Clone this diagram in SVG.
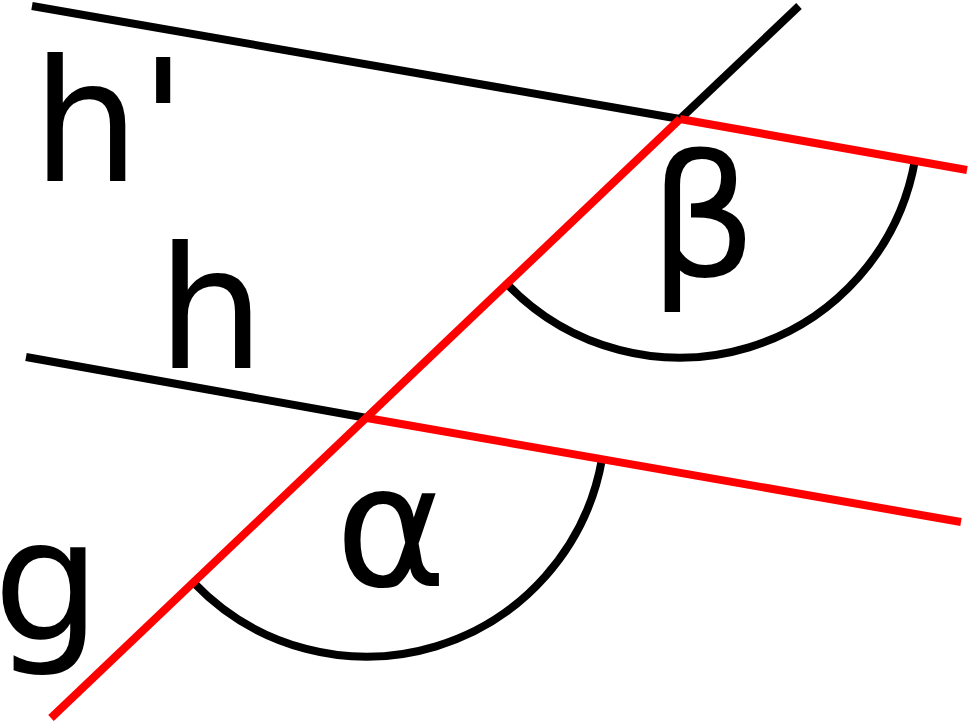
<svg xmlns="http://www.w3.org/2000/svg" width="968" height="724" viewBox="0 0 968 724">
<style>
.blk{stroke:#000;stroke-width:8;fill:none}
.red{stroke:#f00;stroke-width:8;fill:none}
.lbl{font-family:"DejaVu Sans",sans-serif;font-size:170px;fill:#000}
</style>
<rect width="968" height="724" fill="#fff"/>
<g id="arcs">
<path id="arc-beta" class="blk" d="M 507 284 A 239 239 0 0 0 915 160"/>
<path id="arc-alpha" class="blk" d="M 194 583 A 239 239 0 0 0 602 459"/>
</g>
<g id="connectors">
<line class="blk" x1="32" y1="6" x2="680" y2="119"/>
<line class="blk" x1="26" y1="357" x2="367" y2="418"/>
<line class="blk" x1="680" y1="119" x2="799" y2="6"/>
<line class="red" x1="680" y1="119" x2="967" y2="170"/>
<line class="red" x1="367" y1="418" x2="961" y2="522"/>
<path class="red" d="M 51 718 L 680 119"/>
</g>
<g id="labels">
<text id="lbl-hprime" class="lbl" x="32" y="181">h'</text>
<text id="lbl-h" class="lbl" x="157" y="368">h</text>
<text id="lbl-g" class="lbl" x="-7" y="640" font-size="176">g</text>
<text id="lbl-alpha" class="lbl" x="391" y="586" text-anchor="middle">α</text>
<text id="lbl-beta" class="lbl" x="703" y="277" text-anchor="middle">β</text>
</g>
</svg>
